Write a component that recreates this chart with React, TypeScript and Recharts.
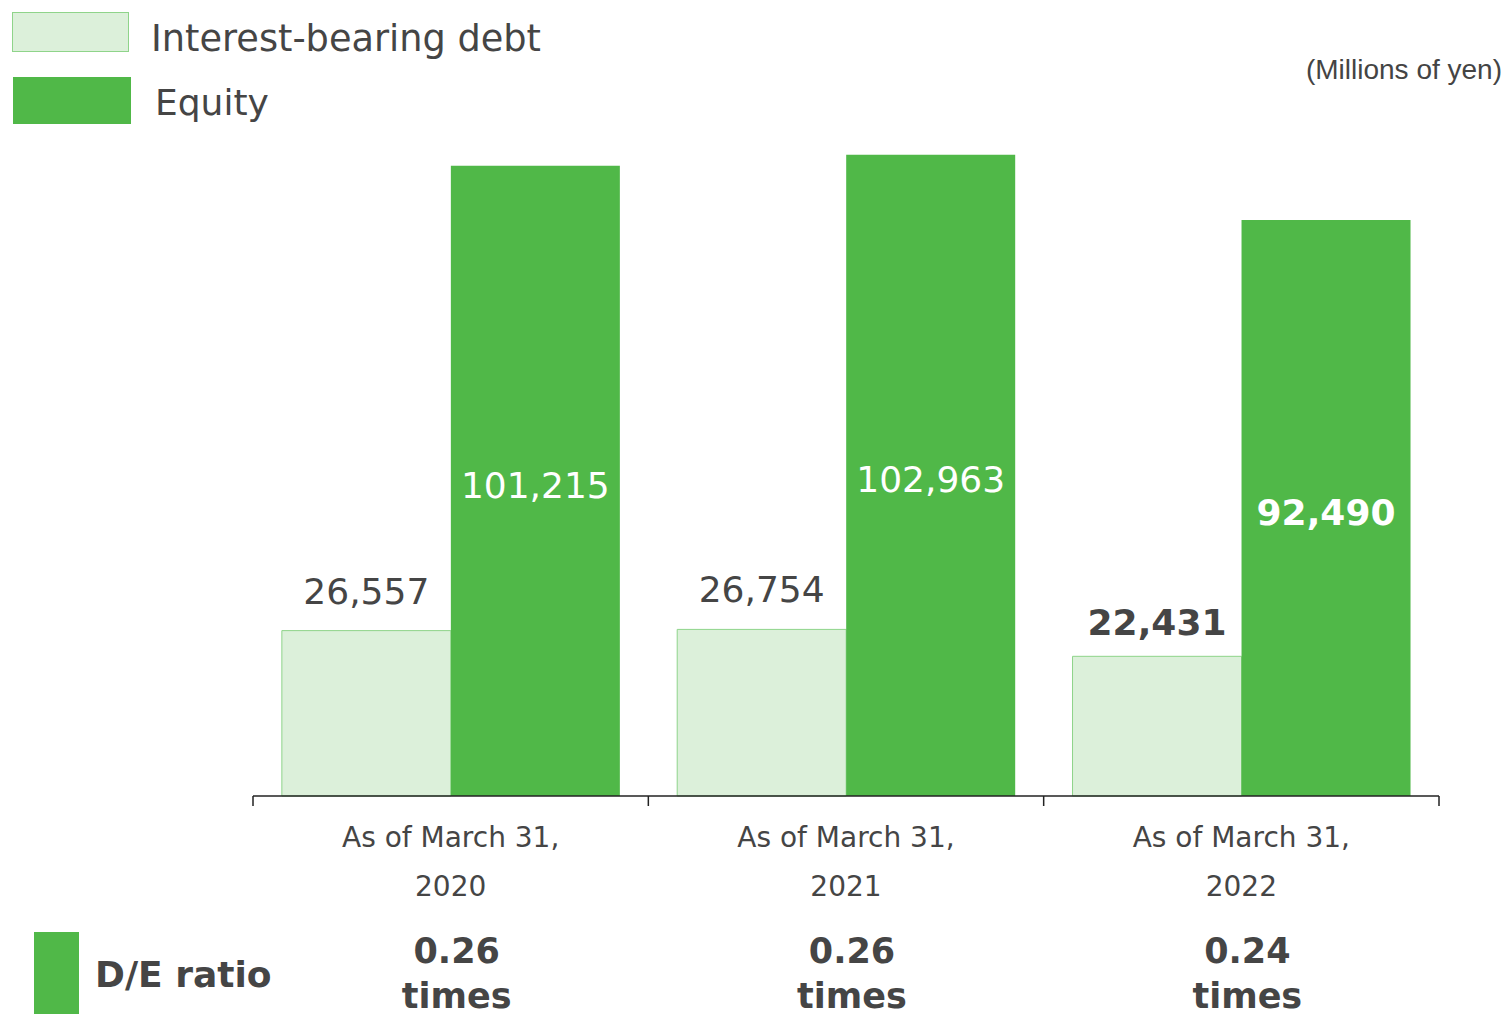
import { Bar, BarChart, LabelList, XAxis, YAxis } from "recharts";

const years = ["2020", "2021", "2022"];
const debt = [26557, 26754, 22431];
const equity = [101215, 102963, 92490];
const deRatio = ["0.26", "0.26", "0.24"];
const boldYear = [false, false, true];

const data = years.map((year, i) => ({ year, debt: debt[i], equity: equity[i] }));

const FONT = "'DejaVu Sans', Verdana, sans-serif";
const INK = "#454545";
const GREEN = "#50B848";
const LIGHT = "#DCF0DA";
const LIGHT_EDGE = "#8FD48A";

const W = 1507;
const H = 1021;
const M = { top: 111, right: 68, bottom: 0, left: 253 };
// Ancho de cada banda de categoría (para las marcas en los límites).
const BAND = (W - M.left - M.right) / years.length;

type TickProps = { x?: number; y?: number; index?: number; payload?: { value: string } };

/** Marcas en los límites de categoría, etiqueta en dos líneas y ratio D/E debajo. */
function YearTick({ x = 0, y = 0, index = 0 }: TickProps) {
  const left = x - BAND / 2;
  const right = x + BAND / 2;
  return (
    <g fontFamily={FONT} textAnchor="middle">
      <line x1={left} x2={left} y1={y} y2={y + 10} stroke="#222" strokeWidth={1.5} />
      {index === years.length - 1 && <line x1={right} x2={right} y1={y} y2={y + 10} stroke="#222" strokeWidth={1.5} />}
      <text x={x} y={y + 51} fontSize={28} fill={INK}>As of March 31,</text>
      <text x={x} y={y + 100} fontSize={28} fill={INK}>{years[index]}</text>
      <text x={x + 6} y={y + 167} fontSize={35} fontWeight={700} fill={INK}>{deRatio[index]}</text>
      <text x={x + 6} y={y + 212} fontSize={35} fontWeight={700} fill={INK}>times</text>
    </g>
  );
}

type LabelProps = { x?: number; y?: number; width?: number; height?: number; value?: number; index?: number };

function DebtLabel({ x = 0, y = 0, width = 0, value = 0, index = 0 }: LabelProps) {
  const bold = boldYear[index];
  return (
    <text x={x + width / 2} y={y - (bold ? 21 : 27)} textAnchor="middle" fontFamily={FONT} fontSize={36}
      fontWeight={bold ? 700 : 400} fill={INK}>
      {value.toLocaleString("en-US")}
    </text>
  );
}

function EquityLabel({ x = 0, y = 0, width = 0, height = 0, value = 0, index = 0 }: LabelProps) {
  return (
    <text x={x + width / 2} y={y + height / 2 + 17} textAnchor="middle" fontFamily={FONT} fontSize={36}
      fontWeight={boldYear[index] ? 700 : 400} fill="#fff">
      {value.toLocaleString("en-US")}
    </text>
  );
}

export default function App() {
  return (
    <div style={{ position: "absolute", left: 0, top: 0, width: W, height: H, background: "#fff", fontFamily: FONT, color: INK }}>
      {/* leyenda */}
      <div style={{ position: "absolute", left: 12, top: 12, width: 115, height: 38, background: LIGHT, border: `1px solid ${LIGHT_EDGE}` }} />
      <div style={{ position: "absolute", left: 151, top: 16, fontSize: 36.7, lineHeight: "46px" }}>Interest-bearing debt</div>
      <div style={{ position: "absolute", left: 13, top: 77, width: 118, height: 47, background: GREEN }} />
      <div style={{ position: "absolute", left: 155, top: 80, fontSize: 36, lineHeight: "46px" }}>Equity</div>
      <div style={{ position: "absolute", right: 5, top: 53, fontFamily: "'Liberation Sans', Arial, sans-serif", fontSize: 28, lineHeight: "34px", color: "#444" }}>
        (Millions of yen)
      </div>

      <div style={{ position: "absolute", left: 0, top: 0 }}>
        <BarChart width={W} height={H} data={data} margin={M} barCategoryGap="7.3%" barGap={0}>
          <XAxis dataKey="year" height={225} tickSize={0} tickMargin={0} tickLine={false}
            stroke="#222" strokeWidth={1.5} interval={0} tick={(p: TickProps) => <YearTick {...p} />} />
          <YAxis hide domain={[0, 110000]} />
          <Bar dataKey="debt" fill={LIGHT} stroke={LIGHT_EDGE} strokeWidth={1} isAnimationActive={false}>
            <LabelList dataKey="debt" content={(p: LabelProps) => <DebtLabel {...p} />} />
          </Bar>
          <Bar dataKey="equity" fill={GREEN} isAnimationActive={false}>
            <LabelList dataKey="equity" content={(p: LabelProps) => <EquityLabel {...p} />} />
          </Bar>
        </BarChart>
      </div>

      {/* ratio D/E */}
      <div style={{ position: "absolute", left: 34, top: 932, width: 45, height: 82, background: GREEN }} />
      <div style={{ position: "absolute", left: 95, top: 952, fontSize: 36, fontWeight: 700, lineHeight: "46px" }}>D/E ratio</div>
    </div>
  );
}
